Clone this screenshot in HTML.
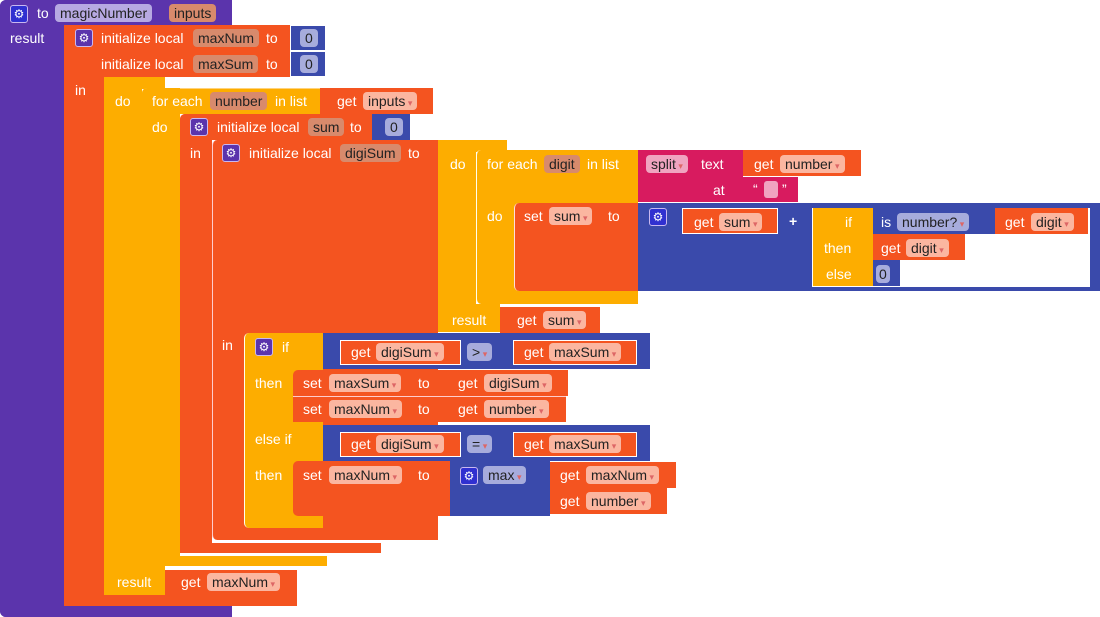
<!DOCTYPE html><html><head><meta charset="utf-8"><style>
body{margin:0;width:1100px;height:617px;background:#fff;position:relative;overflow:hidden;font-family:"Liberation Sans",sans-serif;font-size:14px}
.r{position:absolute}
.t{position:absolute;color:#fff;line-height:16px;white-space:nowrap}
.p{position:absolute;line-height:18px;height:18px;border-radius:4px;padding:0 5px;color:#222;white-space:nowrap;font-size:14px}
.g{background:#fbb6a0}.v{background:#d88a6c}.b{background:#a7acdc}.l{background:#b7a9e2}.k{background:#f0a4c0}
.P{background:#5b34ac}.O{background:#f45420}.Y{background:#fdad00}.B{background:#3a4aab}.K{background:#d81b5f}
.gear{position:absolute;width:16px;height:16px;border-radius:3px;background:#5b34ac;border:1px solid #c9b8f0;color:#fff;font-size:12px;line-height:16px;text-align:center}
.dd:after{content:" ▾";font-size:9px;color:#d66}
</style></head><body>
<!-- purple -->
<div class="r P" style="left:0;top:0;width:232px;height:26px;border-radius:6px 0 0 0"></div>
<div class="r P" style="left:0;top:0;width:64px;height:617px;border-radius:6px 0 0 6px"></div>
<div class="r P" style="left:0;top:606px;width:232px;height:11px;border-radius:0 0 0 6px"></div>
<div class="gear" style="left:10px;top:5px;background:#3030d0">⚙</div>
<div class="t" style="left:37px;top:5px">to</div>
<div class="p l" style="left:55px;top:4px">magicNumber</div>
<div class="p v" style="left:169px;top:4px">inputs</div>
<div class="t" style="left:10px;top:30px">result</div>
<!-- init maxNum/maxSum -->
<div class="r O" style="left:64px;top:25px;width:226px;height:52px"></div>
<div class="r O" style="left:64px;top:25px;width:40px;height:581px"></div>
<div class="r O" style="left:64px;top:595px;width:233px;height:11px"></div>
<div class="gear" style="left:75px;top:29px">⚙</div>
<div class="t" style="left:101px;top:30px">initialize local</div>
<div class="p v" style="left:193px;top:29px">maxNum</div>
<div class="t" style="left:266px;top:30px">to</div>
<div class="t" style="left:101px;top:56px">initialize local</div>
<div class="p v" style="left:193px;top:55px">maxSum</div>
<div class="t" style="left:266px;top:56px">to</div>
<div class="r B" style="left:290px;top:25px;width:36px;height:26px;border:1px solid #fff;box-sizing:border-box"></div>
<div class="r B" style="left:290px;top:51px;width:36px;height:26px;border:1px solid #fff;box-sizing:border-box"></div>
<div class="p b" style="left:300px;top:29px">0</div>
<div class="p b" style="left:300px;top:55px">0</div>
<div class="t" style="left:75px;top:82px">in</div>
<!-- yellow do/result -->
<div class="r Y" style="left:104px;top:77px;width:61px;height:12px"></div>
<div class="r Y" style="left:104px;top:77px;width:38px;height:518px"></div>
<div class="r Y" style="left:104px;top:566px;width:61px;height:29px"></div>
<div class="t" style="left:115px;top:93px">do</div>
<div class="t" style="left:117px;top:574px">result</div>
<div class="r O" style="left:165px;top:570px;width:132px;height:25px"></div>
<div class="t" style="left:181px;top:574px">get</div>
<div class="p g dd" style="left:207px;top:573px">maxNum</div>
<!-- for each number -->
<div class="r Y" style="left:142px;top:88px;width:178px;height:26px;border-radius:5px 0 0 0;box-shadow:inset 1px 1px 0 #ffd27a"></div>
<div class="r Y" style="left:142px;top:88px;width:38px;height:478px;border-radius:5px 0 0 5px"></div>
<div class="r Y" style="left:142px;top:556px;width:185px;height:10px"></div>
<div class="t" style="left:152px;top:93px">for each</div>
<div class="p v" style="left:210px;top:92px">number</div>
<div class="t" style="left:275px;top:93px">in list</div>
<div class="r O" style="left:320px;top:88px;width:113px;height:26px"></div>
<div class="t" style="left:337px;top:93px">get</div>
<div class="p g dd" style="left:363px;top:92px">inputs</div>
<div class="t" style="left:152px;top:119px">do</div>
<!-- init sum -->
<div class="r O" style="left:180px;top:114px;width:192px;height:26px;border-radius:5px 0 0 0"></div>
<div class="r O" style="left:180px;top:114px;width:32px;height:439px;border-radius:5px 0 0 5px"></div>
<div class="r O" style="left:180px;top:543px;width:201px;height:10px"></div>
<div class="gear" style="left:190px;top:118px">⚙</div>
<div class="t" style="left:217px;top:119px">initialize local</div>
<div class="p v" style="left:308px;top:118px">sum</div>
<div class="t" style="left:350px;top:119px">to</div>
<div class="r B" style="left:372px;top:114px;width:38px;height:26px"></div>
<div class="p b" style="left:385px;top:118px">0</div>
<div class="t" style="left:190px;top:145px">in</div>
<!-- init digiSum -->
<div class="r O" style="left:212px;top:140px;width:226px;height:400px;border-radius:5px 0 0 5px;border-left:1px solid #fcc;box-sizing:border-box"></div>
<div class="gear" style="left:222px;top:144px">⚙</div>
<div class="t" style="left:249px;top:145px">initialize local</div>
<div class="p v" style="left:340px;top:144px">digiSum</div>
<div class="t" style="left:408px;top:145px">to</div>
<div class="t" style="left:222px;top:337px">in</div>
<!-- inner do/result -->
<div class="r Y" style="left:438px;top:140px;width:69px;height:12px"></div>
<div class="r Y" style="left:438px;top:140px;width:38px;height:192px"></div>
<div class="r Y" style="left:438px;top:304px;width:62px;height:28px"></div>
<div class="t" style="left:450px;top:156px">do</div>
<div class="t" style="left:452px;top:312px">result</div>
<div class="r O" style="left:500px;top:307px;width:100px;height:26px"></div>
<div class="t" style="left:517px;top:312px">get</div>
<div class="p g dd" style="left:543px;top:311px">sum</div>
<!-- for each digit -->
<div class="r Y" style="left:476px;top:150px;width:162px;height:154px;border-radius:5px 0 0 5px;border-left:1px solid #ffe;box-sizing:border-box"></div>
<div class="t" style="left:487px;top:156px">for each</div>
<div class="p v" style="left:544px;top:155px">digit</div>
<div class="t" style="left:587px;top:156px">in list</div>
<div class="r K" style="left:638px;top:150px;width:105px;height:52px"></div>
<div class="p k dd" style="left:646px;top:155px">split</div>
<div class="t" style="left:701px;top:156px">text</div>
<div class="t" style="left:713px;top:182px">at</div>
<div class="r O" style="left:743px;top:150px;width:118px;height:26px"></div>
<div class="t" style="left:754px;top:156px">get</div>
<div class="p g dd" style="left:780px;top:155px">number</div>
<div class="r K" style="left:743px;top:177px;width:55px;height:25px"></div>
<div class="t" style="left:753px;top:181px">“</div>
<div class="r" style="left:764px;top:181px;width:14px;height:17px;border-radius:3px;background:#f0a4c0"></div>
<div class="t" style="left:782px;top:181px">”</div>
<div class="t" style="left:487px;top:208px">do</div>
<div class="r O" style="left:514px;top:203px;width:124px;height:88px;border-radius:5px 0 0 5px;border-left:1px solid #fdd;box-sizing:border-box"></div>
<div class="t" style="left:524px;top:208px">set</div>
<div class="p g dd" style="left:549px;top:207px">sum</div>
<div class="t" style="left:608px;top:208px">to</div>
<div class="r B" style="left:638px;top:203px;width:462px;height:88px"></div>
<div class="gear" style="left:649px;top:208px;background:#3030d0">⚙</div>
<div class="r O" style="left:682px;top:208px;width:96px;height:26px;border:1px solid #fff;box-sizing:border-box"></div>
<div class="t" style="left:694px;top:214px">get</div>
<div class="p g dd" style="left:719px;top:213px">sum</div>
<div class="t" style="left:789px;top:213px;font-weight:bold">+</div>
<div class="r" style="left:812px;top:208px;width:278px;height:79px;background:#fff"></div>
<div class="r Y" style="left:813px;top:208px;width:60px;height:78px"></div>
<div class="t" style="left:845px;top:214px">if</div>
<div class="t" style="left:824px;top:240px">then</div>
<div class="t" style="left:826px;top:266px">else</div>
<div class="r B" style="left:873px;top:208px;width:122px;height:26px"></div>
<div class="t" style="left:881px;top:214px">is</div>
<div class="p b dd" style="left:897px;top:213px">number?</div>
<div class="r O" style="left:995px;top:208px;width:93px;height:26px"></div>
<div class="t" style="left:1005px;top:214px">get</div>
<div class="p g dd" style="left:1031px;top:213px">digit</div>
<div class="r O" style="left:873px;top:234px;width:92px;height:26px"></div>
<div class="t" style="left:881px;top:240px">get</div>
<div class="p g dd" style="left:906px;top:239px">digit</div>
<div class="r B" style="left:873px;top:260px;width:27px;height:26px"></div>
<div class="p b" style="left:876px;top:265px;padding:0 3px">0</div>
<!-- if block -->
<div class="r Y" style="left:244px;top:333px;width:79px;height:195px;border-radius:5px 0 0 5px;border-left:1px solid #ffe;box-sizing:border-box"></div>
<div class="gear" style="left:255px;top:338px">⚙</div>
<div class="t" style="left:282px;top:339px">if</div>
<div class="t" style="left:255px;top:375px">then</div>
<div class="t" style="left:255px;top:431px">else if</div>
<div class="t" style="left:255px;top:467px">then</div>
<div class="r B" style="left:323px;top:333px;width:327px;height:36px"></div>
<div class="r O" style="left:340px;top:340px;width:121px;height:25px;border:1px solid #fff;box-sizing:border-box"></div>
<div class="t" style="left:351px;top:344px">get</div>
<div class="p g dd" style="left:376px;top:343px">digiSum</div>
<div class="p b dd" style="left:467px;top:343px">&gt;</div>
<div class="r O" style="left:513px;top:340px;width:124px;height:25px;border:1px solid #fff;box-sizing:border-box"></div>
<div class="t" style="left:524px;top:344px">get</div>
<div class="p g dd" style="left:549px;top:343px">maxSum</div>
<div class="r O" style="left:293px;top:370px;width:275px;height:26px;border-radius:5px 0 0 0"></div>
<div class="r O" style="left:293px;top:396px;width:273px;height:26px;border-top:1px solid #fcc;box-sizing:border-box"></div>
<div class="t" style="left:303px;top:375px">set</div>
<div class="p g dd" style="left:329px;top:374px">maxSum</div>
<div class="t" style="left:418px;top:375px">to</div>
<div class="t" style="left:458px;top:375px">get</div>
<div class="p g dd" style="left:484px;top:374px">digiSum</div>
<div class="t" style="left:303px;top:401px">set</div>
<div class="p g dd" style="left:329px;top:400px">maxNum</div>
<div class="t" style="left:418px;top:401px">to</div>
<div class="t" style="left:458px;top:401px">get</div>
<div class="p g dd" style="left:484px;top:400px">number</div>
<div class="r B" style="left:323px;top:425px;width:327px;height:36px"></div>
<div class="r O" style="left:340px;top:432px;width:121px;height:25px;border:1px solid #fff;box-sizing:border-box"></div>
<div class="t" style="left:351px;top:436px">get</div>
<div class="p g dd" style="left:376px;top:435px">digiSum</div>
<div class="p b dd" style="left:467px;top:435px">=</div>
<div class="r O" style="left:513px;top:432px;width:124px;height:25px;border:1px solid #fff;box-sizing:border-box"></div>
<div class="t" style="left:524px;top:436px">get</div>
<div class="p g dd" style="left:549px;top:435px">maxSum</div>
<div class="r O" style="left:293px;top:461px;width:157px;height:55px;border-radius:5px 0 0 5px"></div>
<div class="t" style="left:303px;top:467px">set</div>
<div class="p g dd" style="left:329px;top:466px">maxNum</div>
<div class="t" style="left:418px;top:467px">to</div>
<div class="r B" style="left:450px;top:461px;width:100px;height:55px"></div>
<div class="gear" style="left:460px;top:467px;background:#3030d0">⚙</div>
<div class="p b dd" style="left:483px;top:466px">max</div>
<div class="r O" style="left:550px;top:462px;width:126px;height:26px"></div>
<div class="t" style="left:560px;top:467px">get</div>
<div class="p g dd" style="left:586px;top:466px">maxNum</div>
<div class="r O" style="left:550px;top:488px;width:117px;height:26px"></div>
<div class="t" style="left:560px;top:493px">get</div>
<div class="p g dd" style="left:586px;top:492px">number</div>
</body></html>
